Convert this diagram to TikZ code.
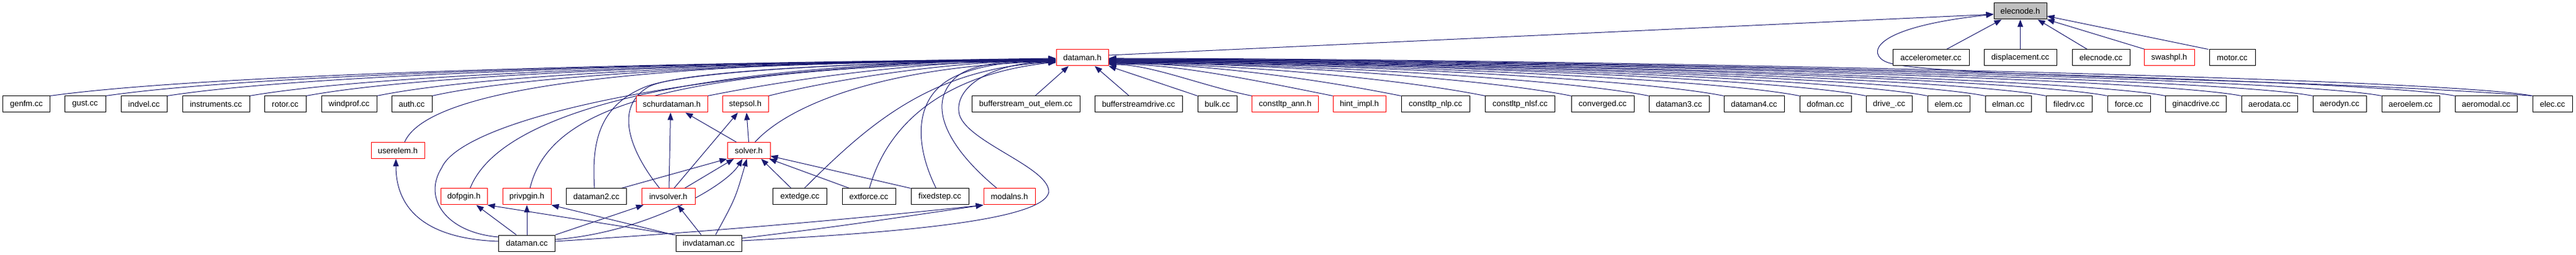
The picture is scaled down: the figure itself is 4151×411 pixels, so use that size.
\documentclass[tikz,border=0pt]{standalone}
\usepackage{fontspec}
\setmainfont{Liberation Sans}
\usetikzlibrary{arrows.meta,backgrounds}
\definecolor{edgeblue}{HTML}{191970}
\begin{document}
\begin{tikzpicture}[x=1pt,y=-1pt,
  box/.style={draw=black, fill=white, line width=1pt, inner sep=0pt, minimum height=26pt, font=\fontsize{13}{15}\selectfont},
  rbox/.style={box, draw=red},
  gbox/.style={box, fill=gray!50},
  dep/.style={draw=edgeblue, line width=1pt, -{Triangle[length=12pt,width=9pt]}}]
\useasboundingbox (0,0) rectangle (4151,411);
% row 0
\node[gbox, minimum width=85pt] (en) at (3255.5,18) {elecnode.h};
% row 1
\node[rbox, minimum width=84pt] (dm) at (1744,93) {dataman.h};
\node[box, minimum width=123pt] (acc) at (3111.5,93) {accelerometer.cc};
\node[box, minimum width=117pt] (disp) at (3255.5,93) {displacement.cc};
\node[box, minimum width=93pt] (encc) at (3385.5,93) {elecnode.cc};
\node[rbox, minimum width=81pt] (swash) at (3495.5,93) {swashpl.h};
\node[box, minimum width=74pt] (motor) at (3597,93) {motor.cc};
% row 2
\node[box, minimum width=76pt] (genfm) at (42.5,168) {genfm.cc};
\node[box, minimum width=66pt] (gust) at (137,168) {gust.cc};
\node[box, minimum width=74pt] (indvel) at (232,168) {indvel.cc};
\node[box, minimum width=108pt] (instr) at (348,168) {instruments.cc};
\node[box, minimum width=67pt] (rotor) at (459.5,168) {rotor.cc};
\node[box, minimum width=89pt] (windprof) at (562.5,168) {windprof.cc};
\node[box, minimum width=65pt] (auth) at (663.5,168) {auth.cc};
\node[rbox, minimum width=115pt] (schur) at (1082.5,168) {schurdataman.h};
\node[rbox, minimum width=74pt] (stepsol) at (1201,168) {stepsol.h};
\node[box, minimum width=174pt] (bsoe) at (1653,168) {bufferstream\_out\_elem.cc};
\node[box, minimum width=141pt] (bsd) at (1834.5,168) {bufferstreamdrive.cc};
\node[box, minimum width=63pt] (bulk) at (1961.5,168) {bulk.cc};
\node[rbox, minimum width=107pt] (cann) at (2071,168) {constltp\_ann.h};
\node[rbox, minimum width=85pt] (hint) at (2190.5,168) {hint\_impl.h};
\node[box, minimum width=110pt] (cnlp) at (2313,168) {constltp\_nlp.cc};
\node[box, minimum width=112pt] (cnlsf) at (2449.5,168) {constltp\_nlsf.cc};
\node[box, minimum width=101pt] (conv) at (2582.5,168) {converged.cc};
\node[box, minimum width=97pt] (dm3) at (2705.5,168) {dataman3.cc};
\node[box, minimum width=97pt] (dm4) at (2826.5,168) {dataman4.cc};
\node[box, minimum width=83pt] (dofman) at (2941.5,168) {dofman.cc};
\node[box, minimum width=74pt] (drive) at (3044,168) {drive\_.cc};
\node[box, minimum width=68pt] (elem) at (3140,168) {elem.cc};
\node[box, minimum width=74pt] (elman) at (3236,168) {elman.cc};
\node[box, minimum width=74pt] (filedrv) at (3334,168) {filedrv.cc};
\node[box, minimum width=69pt] (force) at (3430.5,168) {force.cc};
\node[box, minimum width=98pt] (ginac) at (3538.5,168) {ginacdrive.cc};
\node[box, minimum width=90pt] (aerodata) at (3657,168) {aerodata.cc};
\node[box, minimum width=86pt] (aerodyn) at (3770,168) {aerodyn.cc};
\node[box, minimum width=93pt] (aeroelem) at (3884.5,168) {aeroelem.cc};
\node[box, minimum width=100pt] (aeromodal) at (4006,168) {aeromodal.cc};
\node[box, minimum width=64pt] (elec) at (4113,168) {elec.cc};
% row 3
\node[rbox, minimum width=86pt] (ue) at (641,242.5) {userelem.h};
\node[rbox, minimum width=69pt] (solver) at (1206.5,242.5) {solver.h};
% row 4
\node[rbox, minimum width=75pt] (dofp) at (747.5,317) {dofpgin.h};
\node[rbox, minimum width=78pt] (priv) at (849,317) {privpgin.h};
\node[box, minimum width=97pt] (dm2) at (961,317) {dataman2.cc};
\node[rbox, minimum width=86pt] (invs) at (1077,317) {invsolver.h};
\node[box, minimum width=87pt] (extedge) at (1289,317) {extedge.cc};
\node[box, minimum width=86pt] (extforce) at (1400,317) {extforce.cc};
\node[box, minimum width=93pt] (fixedstep) at (1514.5,317) {fixedstep.cc};
\node[rbox, minimum width=83pt] (modalns) at (1626.5,317) {modalns.h};
% row 5
\node[box, minimum width=91pt] (dmcc) at (849,392) {dataman.cc};
\node[box, minimum width=106pt] (ivdm) at (1142,392) {invdataman.cc};

\begin{scope}[on background layer]
% left row-2 nodes to dataman.h
\foreach \n/\dx/\s in {genfm/324/-2, gust/306/-3, indvel/287/-3, instr/260/-4, rotor/242/-4, windprof/219/-5, auth/201/-5}
  \draw[dep] (\n.north east) .. controls +(\dx,-45) and (1450,97) .. ([yshift=\s pt]dm.west);
\draw[dep] (schur.north east) .. controls +(150,-30) and (1500,97) .. ([yshift=-4pt]dm.west);
\draw[dep] (stepsol.north east) .. controls +(120,-30) and (1550,97) .. ([yshift=-5pt]dm.west);
% lower nodes to dataman.h
\draw[dep] ([xshift=11pt]ue.north) .. controls (700,120) and (1200,100) .. ([yshift=-1pt]dm.west);
\draw[dep] ([yshift=10pt]dmcc.west) .. controls (720,375) and (680,320) .. (712,270) .. controls (745,195) and (1100,105) .. ([yshift=-2pt]dm.west);
\draw[dep] ([xshift=10pt]dofp.north) .. controls (810,170) and (1150,100) .. ([yshift=-3pt]dm.west);
\draw[dep] ([xshift=5pt]priv.north) .. controls (890,150) and (1150,110) .. ([yshift=-4pt]dm.west);
\draw[dep] ([xshift=-3pt]dm2.north) .. controls (953,230) and (965,170) .. (1040,140) .. controls (1115,110) and (1500,97) .. ([yshift=-5pt]dm.west);
\draw[dep] ([xshift=-14pt]invs.north) .. controls (1020,250) and (985,175) .. (1045,140) .. controls (1100,110) and (1500,97) .. ([yshift=-6pt]dm.west);
\draw[dep] ([xshift=10pt]solver.north) .. controls (1280,160) and (1450,105) .. ([yshift=-6pt]dm.west);
\draw[dep] ([xshift=7pt]extedge.north) .. controls (1400,200) and (1500,110) .. ([yshift=-7pt]dm.west);
\draw[dep] ([xshift=1pt]extforce.north) .. controls (1430,200) and (1520,120) .. ([yshift=-7pt]dm.west);
\draw[dep] ([xshift=-6pt]fixedstep.north) .. controls (1472,230) and (1475,160) .. (1530,128) .. controls (1575,102) and (1650,97) .. ([yshift=-8pt]dm.west);
\draw[dep] ([xshift=-20pt]modalns.north) .. controls (1530,240) and (1490,170) .. (1540,125) .. controls (1570,98) and (1650,97) .. ([yshift=-8pt]dm.west);
\draw[dep] ([yshift=4pt]ivdm.east) .. controls (1450,375) and (1680,355) .. (1690,310) .. controls (1692,270) and (1560,230) .. (1546,185) .. controls (1535,140) and (1600,100) .. ([yshift=-7pt]dm.west);
% right row-2 nodes to dataman.h
\draw[dep] ([xshift=15pt]bsoe.north) -- ([xshift=-22pt]dm.south);
\draw[dep] ([xshift=-15pt]bsd.north) -- ([xshift=20pt]dm.south);
\draw[dep] (bulk.north west) -- (dm.south east);
\foreach \n/\b/\a/\s in {cann/81/69/-11, hint/127/109/-10, cnlp/150/142/-9, cnlsf/150/182/-9, conv/150/224/-8, dm3/150/261/-8, dm4/150/298/-7, dofman/150/334/-7, drive/150/366/-6, elem/150/396/-6, elman/150/424/-5, filedrv/150/453/-5, force/150/483/-4, ginac/150/511/-4, aerodata/150/548/-3, aerodyn/150/582/-3, aeroelem/150/616/-2, aeromodal/150/651/-2, elec/150/689/-1}
  \draw[dep] (\n.north west) .. controls +(-\b,-0.2*\b) and +(\a,0) .. ([yshift=\s pt]dm.east);
% to elecnode.h
\draw[dep] ([yshift=4pt]dm.east) -- ([yshift=-5pt]en.west);
\draw[dep] ([xshift=25pt]acc.north) -- ([xshift=-30pt]en.south);
\draw[dep] (disp.north) -- (en.south);
\draw[dep] ([xshift=-22pt]encc.north) -- ([xshift=28pt]en.south);
\draw[dep] ([xshift=2pt]swash.north west) -- (en.south east);
\draw[dep] ([xshift=-1pt]motor.north west) -- ([yshift=-8pt]en.east);
\draw[dep] (elec.north west) .. controls (3700,125) and (3100,125) .. (3040,100) .. controls (3010,88) and (3010,45) .. ([yshift=-5pt]en.west);
% solver-related
\draw[dep] ([xshift=-20pt]solver.north) -- ([xshift=22pt]schur.south);
\draw[dep] (solver.north) -- ([xshift=2pt]stepsol.south);
\draw[dep] ([xshift=1pt]invs.north) -- ([xshift=-2pt]schur.south);
\draw[dep] ([xshift=9pt]invs.north) -- ([xshift=-12pt]stepsol.south);
\draw[dep] ([xshift=40pt]dm2.north) -- ([xshift=-35pt]solver.south);
\draw[dep] ([xshift=26pt]invs.north) -- ([xshift=-24pt]solver.south);
\draw[dep] ([yshift=6pt]dmcc.east) .. controls (1040,375) and (1170,300) .. ([xshift=-10pt]solver.south);
\draw[dep] ([xshift=11pt]ivdm.north) .. controls (1185,320) .. ([xshift=-3pt]solver.south);
\draw[dep] ([xshift=-14pt]extedge.north) -- ([xshift=20pt]solver.south);
\draw[dep] ([xshift=-31pt]extforce.north) -- ([xshift=-2pt]solver.south east);
\draw[dep] (fixedstep.north west) -- ([yshift=-9pt]solver.east);
% invsolver, privpgin, dofpgin, modalns, userelem
\draw[dep] (dmcc.north east) -- ([xshift=-40pt]invs.south);
\draw[dep] ([xshift=-12pt]ivdm.north) -- ([xshift=15pt]invs.south);
\draw[dep] (dmcc.north) -- (priv.south);
\draw[dep] ([xshift=-3pt]ivdm.north west) -- (priv.south east);
\draw[dep] ([xshift=-17pt]dmcc.north) -- ([xshift=20pt]dofp.south);
\draw[dep] (ivdm.north west) -- (dofp.south east);
\draw[dep] ([yshift=3pt]dmcc.east) .. controls (1200,370) and (1450,345) .. (modalns.south west);
\draw[dep] ([yshift=8pt]ivdm.east) .. controls (1350,365) .. (modalns.south west);
\draw[dep] ([yshift=3pt]dmcc.west) .. controls (690,385) and (638,340) .. ([xshift=-3pt]ue.south);
\end{scope}
\end{tikzpicture}
\end{document}
